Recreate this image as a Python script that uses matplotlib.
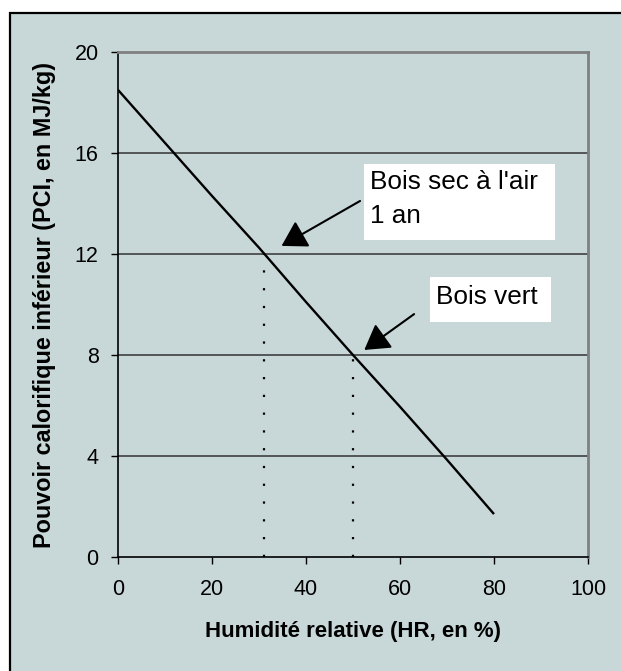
import matplotlib
matplotlib.use("Agg")
import matplotlib.pyplot as plt
from matplotlib.patches import Rectangle

plt.rcParams['font.family'] = ['Liberation Sans', 'DejaVu Sans']

# Data
humidity = [0, 10, 20, 30, 40, 50, 60, 70, 80]
pci = [18.5, 16.4, 14.3, 12.25, 10.1, 8.0, 5.95, 3.85, 1.7]
x_ticks = [0, 20, 40, 60, 80, 100]
y_ticks = [0, 4, 8, 12, 16, 20]
ref_points_x = [31, 50]
ref_points_y = [12, 8]
labels = ["Bois sec à l'air\n1 an", "Bois vert"]
x_label = "Humidité relative (HR, en %)"
y_label = "Pouvoir calorifique inférieur (PCI, en MJ/kg)"

BG = '#C8D8D8'
W, H = 621, 671
fig = plt.figure(figsize=(W / 100, H / 100), dpi=100, facecolor='white')

# outer chart frame
frame = Rectangle((9.5 / W, -0.1), 1.2, 1 - 12.5 / H + 0.1, transform=fig.transFigure,
                  facecolor=BG, edgecolor='black', lw=1.6, zorder=-10)
fig.patches.append(frame)

ax = fig.add_axes([118 / W, (H - 557) / H, 470 / W, 505 / H])
ax.set_facecolor(BG)
ax.set_xlim(0, 100)
ax.set_ylim(0, 20)

for yv in y_ticks[1:]:
    ax.axhline(yv, color='#404040', lw=1.2, zorder=1)

ax.plot(humidity, pci, color='black', lw=1.7, zorder=3, solid_capstyle='butt')

for xv, yv in zip(ref_points_x, ref_points_y):
    ax.plot([xv, xv], [0, yv], color='black', lw=1.6, linestyle=(0, (1, 7.0)), zorder=2)

ax.set_xticks(x_ticks)
ax.set_yticks(y_ticks)
ax.tick_params(axis='both', direction='out', length=5, width=1.0, labelsize=15.5, color='black')
ax.tick_params(axis='x', pad=11)
ax.tick_params(axis='y', pad=9)

for side in ['top', 'right']:
    ax.spines[side].set_color('#808080')
    ax.spines[side].set_linewidth(2.0)
for side in ['left', 'bottom']:
    ax.spines[side].set_color('black')
    ax.spines[side].set_linewidth(1.2)

ax.set_xlabel(x_label, fontsize=16, fontweight='bold', labelpad=15)
ax.set_ylabel(y_label, fontsize=16.8, fontweight='bold', labelpad=13)

# annotation boxes (data coords)
boxes = [(52.34, 12.55, 40.64, 3.01), (66.4, 9.31, 25.66, 1.79)]
text_pos = [(53.6, 14.56), (67.6, 10.0)]
arrows = [((51.5, 14.10), (34.8, 12.32)), ((63.0, 9.62), (52.4, 8.20))]
line_gap = 33.4 / 25.25

for (bx, by, bw, bh), (tx, ty), (tail, tip), lab in zip(boxes, text_pos, arrows, labels):
    ax.add_patch(Rectangle((bx, by), bw, bh, facecolor='white', edgecolor='none', zorder=4))
    for i, line in enumerate(lab.split('\n')):
        ax.text(tx, ty - i * line_gap, line, fontsize=18.8, va='baseline', ha='left',
                color='black', zorder=5)
    ax.annotate('', xy=tip, xytext=tail,
                arrowprops=dict(arrowstyle='-|>,head_length=0.4,head_width=0.24',
                                mutation_scale=38, color='black', lw=1.5,
                                shrinkA=0, shrinkB=0), zorder=5)

fig.savefig('out.png', dpi=100, facecolor='white')
